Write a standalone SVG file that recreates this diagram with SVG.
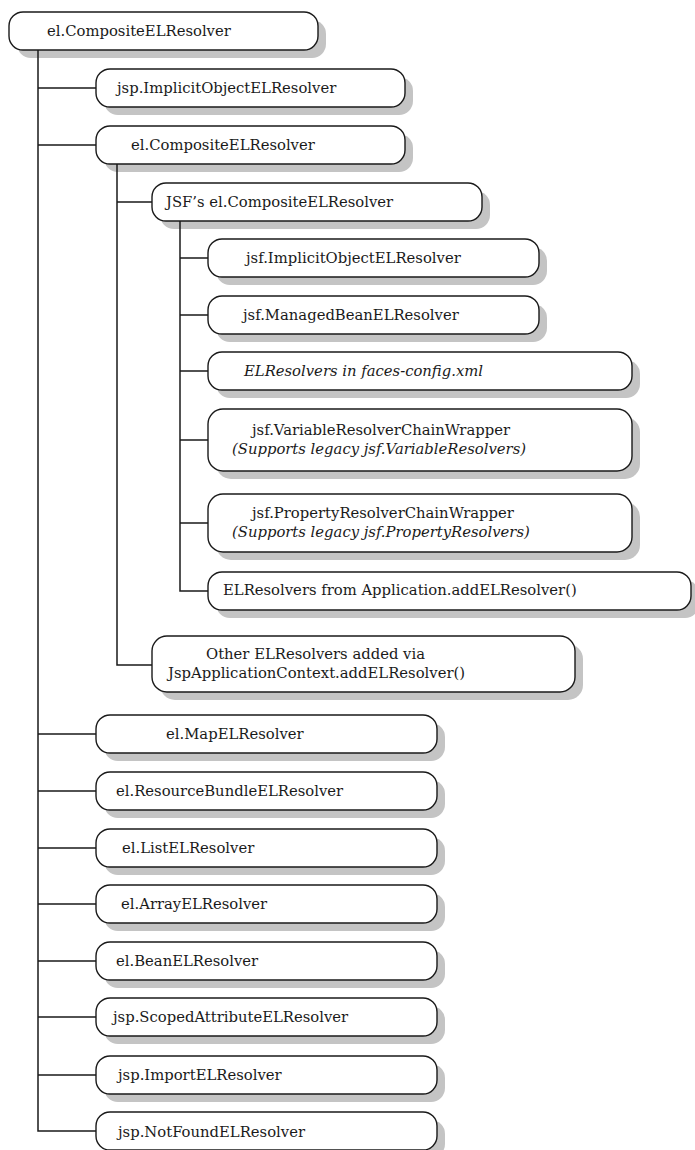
<svg xmlns="http://www.w3.org/2000/svg" width="695" height="1150" viewBox="0 0 695 1150">
<style>
  .bg { fill: #ffffff; }
  .sh { fill: #c4c4c4; }
  .bx { fill: #ffffff; stroke: #1a1a1a; stroke-width: 1.4; }
  .t { font-family: "DejaVu Serif", "Liberation Serif", serif; font-size: 14.8px; fill: #1a1a1a; }
  .i { font-style: italic; }
  .c { fill: none; stroke: #1a1a1a; stroke-width: 1.5; }
</style>
<rect class="bg" x="0" y="0" width="695" height="1150"/>

<g id="n-root">
  <rect class="sh" x="17" y="20" width="309" height="38" rx="14"/>
  <rect class="bx" x="9" y="12" width="309" height="38" rx="14"/>
  <text class="t" x="47" y="36">el.CompositeELResolver</text>
</g>
<g id="n-jsp-implicit">
  <rect class="sh" x="104" y="77" width="309" height="38" rx="14"/>
  <rect class="bx" x="96" y="69" width="309" height="38" rx="14"/>
  <text class="t" x="117" y="93">jsp.ImplicitObjectELResolver</text>
</g>
<g id="n-el-composite">
  <rect class="sh" x="104" y="134" width="309" height="38" rx="14"/>
  <rect class="bx" x="96" y="126" width="309" height="38" rx="14"/>
  <text class="t" x="131" y="150">el.CompositeELResolver</text>
</g>
<g id="n-jsf-composite">
  <rect class="sh" x="160" y="191" width="330" height="38" rx="14"/>
  <rect class="bx" x="152" y="183" width="330" height="38" rx="14"/>
  <text class="t" x="166" y="207">JSF’s el.CompositeELResolver</text>
</g>
<g id="n-jsf-implicit">
  <rect class="sh" x="216" y="247" width="331" height="38" rx="14"/>
  <rect class="bx" x="208" y="239" width="331" height="38" rx="14"/>
  <text class="t" x="246" y="263">jsf.ImplicitObjectELResolver</text>
</g>
<g id="n-jsf-managedbean">
  <rect class="sh" x="216" y="304" width="331" height="38" rx="14"/>
  <rect class="bx" x="208" y="296" width="331" height="38" rx="14"/>
  <text class="t" x="243" y="320">jsf.ManagedBeanELResolver</text>
</g>
<g id="n-faces-config">
  <rect class="sh" x="216" y="360" width="424" height="38" rx="14"/>
  <rect class="bx" x="208" y="352" width="424" height="38" rx="14"/>
  <text class="t i" x="244" y="376">ELResolvers in faces-config.xml</text>
</g>
<g id="n-variable-wrapper">
  <rect class="sh" x="216" y="417" width="424" height="62" rx="15"/>
  <rect class="bx" x="208" y="409" width="424" height="62" rx="15"/>
  <text class="t" x="252" y="435">jsf.VariableResolverChainWrapper</text>
  <text class="t i" x="232" y="454">(Supports legacy jsf.VariableResolvers)</text>
</g>
<g id="n-property-wrapper">
  <rect class="sh" x="216" y="502" width="424" height="58" rx="15"/>
  <rect class="bx" x="208" y="494" width="424" height="58" rx="15"/>
  <text class="t" x="252" y="518">jsf.PropertyResolverChainWrapper</text>
  <text class="t i" x="232" y="537">(Supports legacy jsf.PropertyResolvers)</text>
</g>
<g id="n-application-add">
  <rect class="sh" x="216" y="580" width="483" height="38" rx="14"/>
  <rect class="bx" x="208" y="572" width="483" height="38" rx="14"/>
  <text class="t" x="223" y="595">ELResolvers from Application.addELResolver()</text>
</g>
<g id="n-other">
  <rect class="sh" x="160" y="644" width="423" height="56" rx="15"/>
  <rect class="bx" x="152" y="636" width="423" height="56" rx="15"/>
  <text class="t" x="206" y="659">Other ELResolvers added via</text>
  <text class="t" x="168" y="678">JspApplicationContext.addELResolver()</text>
</g>
<g id="n-map">
  <rect class="sh" x="104" y="723" width="341" height="38" rx="14"/>
  <rect class="bx" x="96" y="715" width="341" height="38" rx="14"/>
  <text class="t" x="166" y="739">el.MapELResolver</text>
</g>
<g id="n-resourcebundle">
  <rect class="sh" x="104" y="780" width="341" height="38" rx="14"/>
  <rect class="bx" x="96" y="772" width="341" height="38" rx="14"/>
  <text class="t" x="116" y="796">el.ResourceBundleELResolver</text>
</g>
<g id="n-list">
  <rect class="sh" x="104" y="837" width="341" height="38" rx="14"/>
  <rect class="bx" x="96" y="829" width="341" height="38" rx="14"/>
  <text class="t" x="122" y="853">el.ListELResolver</text>
</g>
<g id="n-array">
  <rect class="sh" x="104" y="893" width="341" height="38" rx="14"/>
  <rect class="bx" x="96" y="885" width="341" height="38" rx="14"/>
  <text class="t" x="121" y="909">el.ArrayELResolver</text>
</g>
<g id="n-bean">
  <rect class="sh" x="104" y="950" width="341" height="38" rx="14"/>
  <rect class="bx" x="96" y="942" width="341" height="38" rx="14"/>
  <text class="t" x="116" y="966">el.BeanELResolver</text>
</g>
<g id="n-scoped">
  <rect class="sh" x="104" y="1006" width="341" height="38" rx="14"/>
  <rect class="bx" x="96" y="998" width="341" height="38" rx="14"/>
  <text class="t" x="113" y="1022">jsp.ScopedAttributeELResolver</text>
</g>
<g id="n-import">
  <rect class="sh" x="104" y="1064" width="341" height="38" rx="14"/>
  <rect class="bx" x="96" y="1056" width="341" height="38" rx="14"/>
  <text class="t" x="118" y="1080">jsp.ImportELResolver</text>
</g>
<g id="n-notfound">
  <rect class="sh" x="104" y="1120" width="341" height="38" rx="14"/>
  <rect class="bx" x="96" y="1112" width="341" height="38" rx="14"/>
  <text class="t" x="118" y="1137">jsp.NotFoundELResolver</text>
</g>

<g id="connectors">
  <path class="c" d="M38,50 V1131 H96"/>
  <path class="c" d="M38,88 H96 M38,145 H96 M38,734 H96 M38,791 H96 M38,848 H96 M38,904 H96 M38,961 H96 M38,1017 H96 M38,1075 H96"/>
  <path class="c" d="M117,164 V665 H152 M117,202 H152"/>
  <path class="c" d="M180,221 V591 H208 M180,258 H208 M180,315 H208 M180,371 H208 M180,440 H208 M180,523 H208"/>
</g>
</svg>
